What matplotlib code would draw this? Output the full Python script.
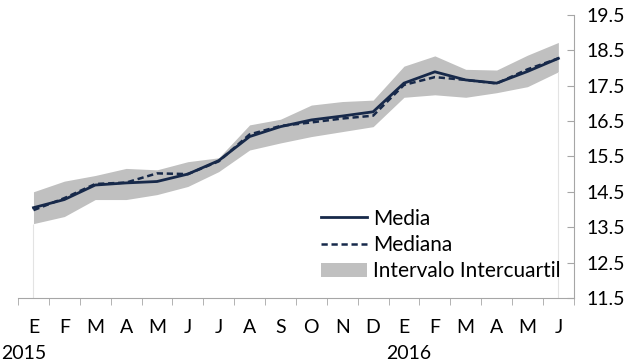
import matplotlib.pyplot as plt
import numpy as np

# datos
meses = ['E', 'F', 'M', 'A', 'M', 'J', 'J', 'A', 'S', 'O', 'N', 'D',
         'E', 'F', 'M', 'A', 'M', 'J']
anios = ['2015', '2016']
pos_anios = [-0.33, 12.15]
media = [14.05, 14.28, 14.69, 14.75, 14.79, 15.0, 15.38, 16.06, 16.34, 16.53,
         16.64, 16.76, 17.57, 17.89, 17.66, 17.57, 17.9, 18.27]
mediana = [13.98, 14.32, 14.72, 14.76, 15.02, 15.0, 15.36, 16.12, 16.36, 16.46,
           16.57, 16.65, 17.52, 17.74, 17.66, 17.56, 17.96, 18.27]
q_inf = [13.6, 13.8, 14.28, 14.28, 14.42, 14.65, 15.07, 15.68, 15.88, 16.06,
         16.2, 16.34, 17.17, 17.24, 17.17, 17.3, 17.47, 17.89]
q_sup = [14.5, 14.8, 14.96, 15.16, 15.12, 15.35, 15.46, 16.39, 16.55, 16.95,
         17.05, 17.09, 18.05, 18.34, 17.96, 17.94, 18.36, 18.72]

azul = '#17294a'
gris = '#a6a6a6'
fs = 14
plt.rcParams['font.family'] = ['Lato', 'DejaVu Sans']

fig = plt.figure(figsize=(6.44, 3.62), dpi=100)
ax = fig.add_axes([0.028, 0.177, 0.863, 0.782])
x = np.arange(len(meses))

ax.fill_between(x, q_inf, q_sup, color='#c0c0c0', lw=0, label='Intervalo Intercuartil')
ax.vlines([x[0], x[-1]], 11.5, [q_inf[0], q_inf[-1]], color='#e3e3e3', lw=0.8)
ax.plot(x, media, color=azul, lw=2.0, label='Media')
ax.plot(x, mediana, color=azul, lw=1.8, ls=(0, (2.5, 1.5)), label='Mediana')

ax.set_xlim(-0.5, len(meses) - 0.5)
ax.set_ylim(11.5, 19.5)
ax.set_yticks(np.arange(11.5, 19.6, 1.0))
ax.set_yticklabels(['%.1f' % v for v in np.arange(11.5, 19.6, 1.0)])
ax.yaxis.tick_right()
ax.tick_params(axis='y', direction='in', length=5, color=gris, labelsize=fs, pad=9)

ax.set_xticks(x)
ax.set_xticklabels(meses)
ax.set_xticks(np.arange(-0.5, len(meses)), minor=True)
ax.tick_params(axis='x', which='major', length=0, labelsize=fs, pad=15)
ax.tick_params(axis='x', which='minor', length=5, color=gris)

for s in ['top', 'left']:
    ax.spines[s].set_visible(False)
for s in ['bottom', 'right']:
    ax.spines[s].set_color(gris)

for p, a in zip(pos_anios, anios):
    ax.text(p, -0.165, a, transform=ax.get_xaxis_transform(),
            ha='center', va='top', fontsize=fs)

h, l = ax.get_legend_handles_labels()
orden = [1, 2, 0]
ax.legend([h[i] for i in orden], [l[i] for i in orden], loc='upper left',
          bbox_to_anchor=(0.53, 0.345), frameon=False, fontsize=15,
          handlelength=2.2, handletextpad=0.3, labelspacing=0.3, borderaxespad=0)

fig.savefig('out.png', dpi=100)
